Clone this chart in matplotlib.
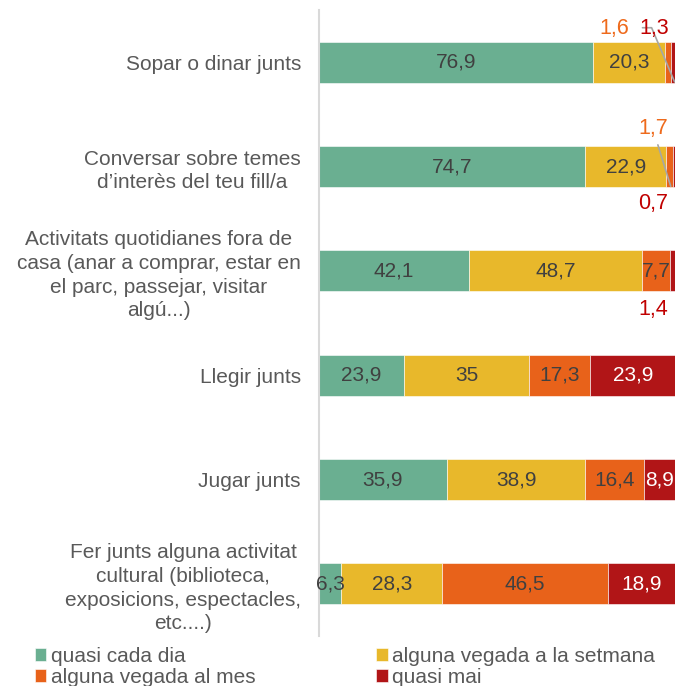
import numpy as np
import matplotlib.pyplot as plt

plt.rcParams['font.family'] = ['Liberation Sans', 'DejaVu Sans']

categories = ["Sopar o dinar junts",
              "Conversar sobre temes\nd\u2019interès del teu fill/a",
              "Activitats quotidianes fora de\ncasa (anar a comprar, estar en\nel parc, passejar, visitar\nalgú...)",
              "Llegir junts",
              "Jugar junts",
              "Fer junts alguna activitat\ncultural (biblioteca,\nexposicions, espectacles,\netc....)"]
series = ["quasi cada dia", "alguna vegada a la setmana",
          "alguna vegada al mes", "quasi mai"]
cada_dia = [76.9, 74.7, 42.1, 23.9, 35.9, 6.3]
setmana = [20.3, 22.9, 48.7, 35, 38.9, 28.3]
mes = [1.6, 1.7, 7.7, 17.3, 16.4, 46.5]
mai = [1.3, 0.7, 1.4, 23.9, 8.9, 18.9]

colors = ['#6AAF91', '#E8B82B', '#E8621A', '#B11517']
label_colors = ['#404040', '#404040', '#404040', 'white']

def fmt(v):
    s = ('%.1f' % v).rstrip('0').rstrip('.')
    return s.replace('.', ',')

fig = plt.figure(figsize=(6.75, 6.86), dpi=100)
ax = fig.add_axes([319 / 675, 1 - 636 / 686, 356 / 675, 626 / 686])

y = np.arange(len(categories))
data = [cada_dia, setmana, mes, mai]
left = np.zeros(len(categories))
for k, vals in enumerate(data):
    vals = np.array(vals, dtype=float)
    ax.barh(y, vals, left=left, height=0.39, color=colors[k],
            edgecolor='white', linewidth=0.4, label=series[k])
    for i, v in enumerate(vals):
        if v >= 5:
            ax.text(left[i] + v / 2, y[i], fmt(v), ha='center', va='center',
                    fontsize=15, color=label_colors[k])
    left = left + vals

# small values placed outside with leader lines
ends = np.cumsum(np.array(data), axis=0)
ax.text(82.9, -0.32, fmt(mes[0]), ha='center', va='center', fontsize=15.5, color='#EE6A1C')
ax.annotate(fmt(mai[0]), xy=(ends[3][0] - 0.2, 0.19), xytext=(94.2, -0.32),
            ha='center', va='center', fontsize=15.5, color='#C00000',
            arrowprops=dict(arrowstyle='-', color='#a6a6a6', lw=1.2,
                            shrinkA=0, shrinkB=0, patchA=None, relpos=(0.1, 0.55),
                            connectionstyle='angle,angleA=0,angleB=113,rad=0'))
ax.annotate(fmt(mes[1]), xy=(ends[2][1] - 0.5, 1.19), xytext=(93.8, 0.64),
            ha='center', va='center', fontsize=15.5, color='#EE6A1C',
            arrowprops=dict(arrowstyle='-', color='#a6a6a6', lw=1.2,
                            shrinkA=2, shrinkB=0))
ax.text(93.8, 1.35, fmt(mai[1]), ha='center', va='center', fontsize=15.5, color='#C00000')
ax.text(93.8, 2.37, fmt(mai[2]), ha='center', va='center', fontsize=15.5, color='#C00000')

ax.set_xlim(0, 100)
ax.set_ylim(5.5, -0.5)
ax.set_yticks(y)
ax.set_yticklabels(categories, fontsize=15, color='#595959',
                   multialignment='center', linespacing=1.32)
ax.tick_params(axis='y', length=0, pad=13)
ax.set_xticks([])
for s in ['top', 'right', 'bottom']:
    ax.spines[s].set_visible(False)
ax.spines['left'].set_color('#d9d9d9')
ax.spines['left'].set_linewidth(1.5)

handles, labels = ax.get_legend_handles_labels()
order = [0, 2, 1, 3]
fig.legend([handles[i] for i in order], [labels[i] for i in order],
           loc='upper left', bbox_to_anchor=(35 / 675, 1 - 647 / 686),
           ncol=2, frameon=False, fontsize=15, labelcolor='#595959',
           handlelength=0.55, handleheight=0.55, handletextpad=0.2,
           columnspacing=5.8, labelspacing=0.08, borderpad=0, borderaxespad=0)

fig.savefig('out.png', dpi=100)
